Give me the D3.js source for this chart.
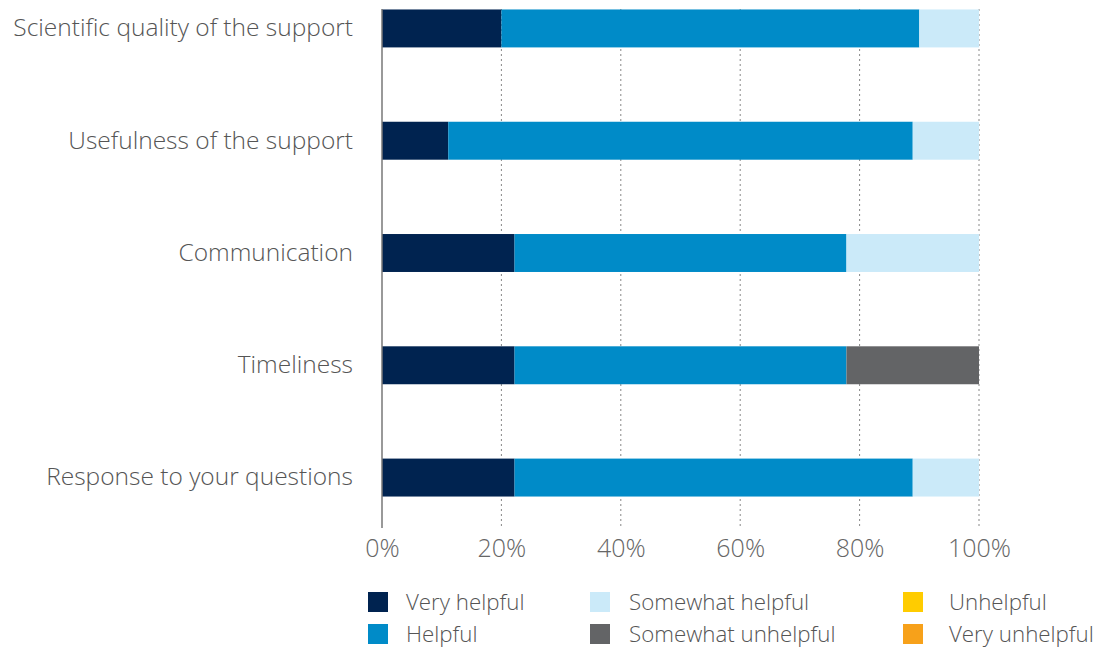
<!DOCTYPE html>
<html><head><meta charset="utf-8">
<script src="https://cdn.jsdelivr.net/npm/d3@7"></script>
<style>
html,body{margin:0;padding:0;background:#fff;}
text{font-family:"Open Sans","Noto Sans",sans-serif;font-weight:300;}
</style></head>
<body><svg id="c" width="1102" height="651"></svg>
<script>
const categories = ["Scientific quality of the support","Usefulness of the support","Communication","Timeliness","Response to your questions"];
const seriesNames = ["Very helpful","Helpful","Somewhat helpful","Somewhat unhelpful","Unhelpful","Very unhelpful"];
const veryHelpful      = [20, 11.1, 22.2, 22.2, 22.2];
const helpful          = [70, 77.8, 55.6, 55.6, 66.7];
const somewhatHelpful  = [10, 11.1, 22.2, 0, 11.1];
const somewhatUnhelpful= [0, 0, 0, 22.2, 0];
const unhelpful        = [0, 0, 0, 0, 0];
const veryUnhelpful    = [0, 0, 0, 0, 0];
const xTicks = [0, 20, 40, 60, 80, 100];
const colors = ["#002350","#008bc8","#cbeaf9","#636466","#ffcc00","#f7a11a"];

const svg = d3.select("#c");
const rows = categories.map((c,i)=>({cat:c,
  "Very helpful":veryHelpful[i],"Helpful":helpful[i],"Somewhat helpful":somewhatHelpful[i],
  "Somewhat unhelpful":somewhatUnhelpful[i],"Unhelpful":unhelpful[i],"Very unhelpful":veryUnhelpful[i]}));
const stack = d3.stack().keys(seriesNames)(rows);

const x = d3.scaleLinear().domain([0,100]).range([382,979]);
const y = d3.scaleBand().domain(categories).range([-27.7,533.7]).paddingInner(0.662).paddingOuter(0.331);
const gridTop = 9, gridBottom = 528;

// gridlines
svg.append("g").selectAll("line").data(xTicks.filter(d=>d>0)).join("line")
  .attr("x1",d=>x(d)).attr("x2",d=>x(d)).attr("y1",gridTop).attr("y2",gridBottom)
  .attr("stroke","#888").attr("stroke-width",1).attr("stroke-dasharray","2,3");

// bars
svg.append("g").selectAll("g").data(stack).join("g")
  .attr("fill",(d,i)=>colors[i])
  .selectAll("rect").data(d=>d).join("rect")
  .attr("x",d=>x(d[0])).attr("width",d=>Math.max(0,x(d[1])-x(d[0])))
  .attr("y",d=>y(d.data.cat)).attr("height",y.bandwidth());

// axis line
svg.append("line").attr("x1",x(0)).attr("x2",x(0)).attr("y1",gridTop).attr("y2",gridBottom)
  .attr("stroke","#777").attr("stroke-width",1.5);

// x tick labels
const xa = svg.append("g").attr("transform",`translate(0,${gridBottom})`)
  .call(d3.axisBottom(x).tickValues(xTicks).tickFormat(d=>d+"%").tickSize(0).tickPadding(11));
xa.select(".domain").remove();
xa.selectAll("text").attr("font-size",25).attr("fill","#666").style("font-family",'"Open Sans","Noto Sans",sans-serif').style("font-weight",300);

// category labels
const ya = svg.append("g").attr("transform",`translate(${x(0)},0)`)
  .call(d3.axisLeft(y).tickSize(0).tickPadding(29));
ya.select(".domain").remove();
ya.selectAll("text").attr("font-size",24.5).attr("fill","#555").style("font-family",'"Open Sans","Noto Sans",sans-serif').style("font-weight",300);

// legend
const legendOrder = [["Very helpful",0,0],["Helpful",0,1],["Somewhat helpful",1,0],["Somewhat unhelpful",1,1],["Unhelpful",2,0],["Very unhelpful",2,1]];
const colX = [368, 590, 903];
const textX = [406, 629, 949];
const rowY = [602, 634];
const lg = svg.append("g").selectAll("g").data(legendOrder).join("g");
lg.append("rect").attr("x",d=>colX[d[1]]).attr("y",d=>rowY[d[2]]-10).attr("width",20).attr("height",20)
  .attr("fill",d=>colors[seriesNames.indexOf(d[0])]);
lg.append("text").attr("x",d=>textX[d[1]]).attr("y",d=>rowY[d[2]]).attr("dy","0.35em")
  .attr("font-size",22.3).attr("fill","#555").text(d=>d[0]);
</script></body></html>
